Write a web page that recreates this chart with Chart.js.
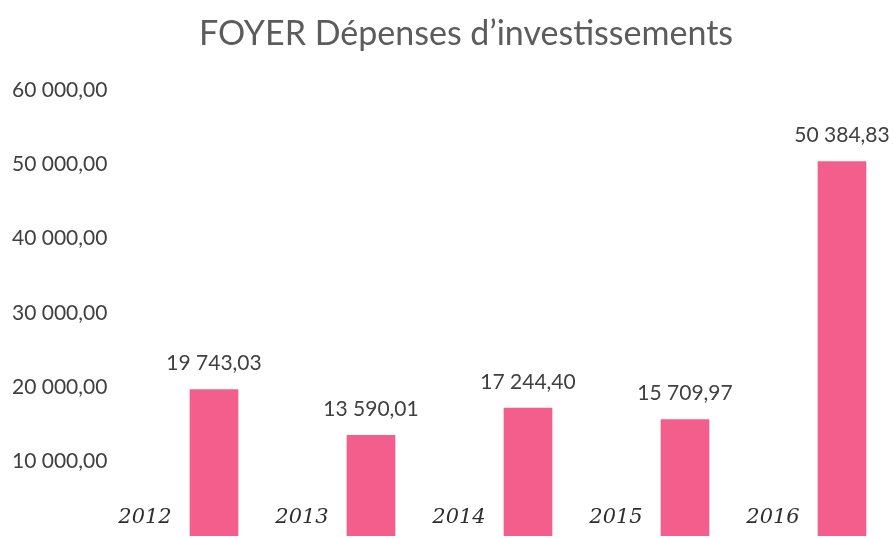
<!DOCTYPE html>
<html>
<head>
<meta charset="utf-8">
<script src="https://cdn.jsdelivr.net/npm/chart.js@4"></script>
<style>
  html, body { margin: 0; padding: 0; background: #fff; }
  #wrap { width: 893px; height: 538px; }
</style>
</head>
<body>
<div id="wrap"><canvas id="chart"></canvas></div>
<script>
const years = ['2012', '2013', '2014', '2015', '2016'];
const depenses = [19743.03, 13590.01, 17244.40, 15709.97, 50384.83];
const yTicks = [10000, 20000, 30000, 40000, 50000, 60000];

const barColor = '#F45E8C';
const textColor = '#404040';

const frNumber = (v) => {
    const [ent, dec] = v.toFixed(2).split('.');
    return ent.replace(/\B(?=(\d{3})+(?!\d))/g, ' ') + ',' + dec;
};

// value above each bar + handwritten year to its left
const barLabels = {
    id: 'barLabels',
    afterLayout(chart) {
        // title sits centred over the plot, not over the whole canvas
        chart.titleBlock.left = 90;
    },
    afterDatasetsDraw(chart) {
        const ctx = chart.ctx;
        const meta = chart.getDatasetMeta(0);
        ctx.save();
        ctx.textAlign = 'center';
        ctx.textBaseline = 'middle';
        meta.data.forEach((bar, i) => {
            ctx.fillStyle = textColor;
            ctx.font = '21px Lato';
            ctx.fillText(frNumber(depenses[i]), bar.x, bar.y - 26);
            ctx.fillStyle = '#2e2e2e';
            ctx.font = 'italic 21px "DejaVu Serif"';
            ctx.fillText(years[i], bar.x - 69, 518);
        });
        ctx.restore();
    }
};

new Chart(document.getElementById('chart'), {
    type: 'bar',
    data: {
        labels: years,
        datasets: [{
            data: depenses,
            backgroundColor: barColor,
            borderWidth: 0,
            barPercentage: 0.31,
            categoryPercentage: 1,
            clip: false
        }]
    },
    options: {
        responsive: true,
        maintainAspectRatio: false,
        animation: false,
        layout: { padding: { left: 12, right: 51, top: 0, bottom: 2 } },
        plugins: {
            legend: { display: false },
            tooltip: { enabled: false },
            title: {
                display: true,
                text: 'FOYER Dépenses d\u2019investissements',
                color: '#5c5c5c',
                font: { family: 'Lato', size: 34, weight: 'normal', lineHeight: 1.2 },
                padding: { top: 14, bottom: 35 }
            }
        },
        scales: {
            x: {
                display: false,
                offset: false
            },
            y: {
                min: 0,
                max: 60000,
                grid: { display: false },
                border: { display: false },
                afterFit: (scale) => {
                    scale.width = 202;
                    scale.paddingTop = 0;
                    scale.paddingBottom = 0;
                },
                afterBuildTicks: (scale) => {
                    scale.ticks = yTicks.map((v) => ({ value: v }));
                },
                ticks: {
                    crossAlign: 'far',
                    color: textColor,
                    font: { family: 'Lato', size: 21 },
                    callback: (v) => frNumber(v)
                }
            }
        }
    },
    plugins: [barLabels]
});
</script>
</body>
</html>
